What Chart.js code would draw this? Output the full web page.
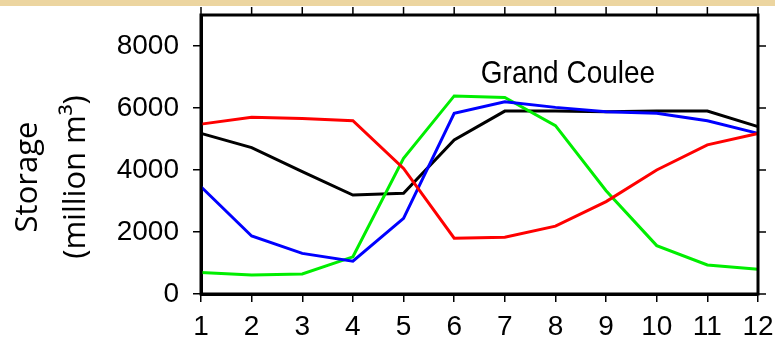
<!DOCTYPE html>
<html lang="en">
<head>
    <meta charset="UTF-8">
    <title>Grand Coulee storage</title>
    <script src="https://cdn.jsdelivr.net/npm/chart.js"></script>
    <style>
        html, body { margin: 0; padding: 0; background: #fff; }
        #wrap { position: relative; width: 775px; height: 343px; }
        #band { position: absolute; left: 0; top: 0; width: 775px; height: 6px; background: #ecd5a0; }
        canvas { position: absolute; left: 0; top: 0; }
    </style>
</head>
<body>
    <div id="wrap">
        <div id="band"></div>
        <canvas id="storageChart" width="775" height="343"></canvas>
    </div>
    <script>
        // months on the x axis
        const months = ['1', '2', '3', '4', '5', '6', '7', '8', '9', '10', '11', '12'];
        const yTicks = [0, 2000, 4000, 6000, 8000];

        // storage values (million m3)
        const storageRed   = [5480, 5700, 5660, 5590, 4050, 1800, 1830, 2190, 2980, 4000, 4810, 5180];
        const storageBlack = [5180, 4720, 3950, 3190, 3250, 4970, 5900, 5900, 5880, 5900, 5900, 5400];
        const storageBlue  = [3460, 1870, 1310, 1060, 2440, 5830, 6200, 6020, 5880, 5830, 5590, 5180];
        const storageGreen = [690, 610, 645, 1200, 4380, 6390, 6340, 5430, 3330, 1560, 935, 800];

        const tickFont = { family: 'Liberation Sans, Arial, sans-serif', size: 28 };

        // box on top / right with outward ticks, plus the texts
        const extras = {
            id: 'extras',
            afterDraw(chart) {
                const ctx = chart.ctx;
                const a = chart.chartArea;
                const xs = chart.scales.x;
                const ys = chart.scales.y;
                ctx.save();
                ctx.strokeStyle = '#000';
                ctx.lineWidth = 3;
                ctx.strokeRect(a.left, a.top, a.right - a.left, a.bottom - a.top);
                ctx.lineWidth = 1.5;
                ctx.beginPath();
                months.forEach((m, i) => {
                    const px = xs.getPixelForValue(i);
                    ctx.moveTo(px, a.top);
                    ctx.lineTo(px, a.top - 8);
                });
                yTicks.forEach(v => {
                    const py = ys.getPixelForValue(v);
                    ctx.moveTo(a.right, py);
                    ctx.lineTo(a.right + 8, py);
                });
                ctx.stroke();

                ctx.fillStyle = '#000';
                ctx.textAlign = 'center';
                ctx.textBaseline = 'alphabetic';
                ctx.save();
                ctx.translate(568, 83);
                ctx.scale(0.875, 1);
                ctx.font = '32px "Liberation Sans", Arial, sans-serif';
                ctx.fillText('Grand Coulee', 0, 0);
                ctx.restore();

                ctx.font = '31px "Open Sans", sans-serif';
                ctx.translate(37, 177);
                ctx.rotate(-Math.PI / 2);
                ctx.fillText('Storage', 0, 0);
                ctx.fillText('(million m\u00b3)', 0, 48);
                ctx.restore();
            }
        };

        const ctx = document.getElementById('storageChart').getContext('2d');
        new Chart(ctx, {
            type: 'line',
            data: {
                labels: months,
                datasets: [
                    { data: storageRed, borderColor: '#ff0000' },
                    { data: storageBlue, borderColor: '#0000ff' },
                    { data: storageGreen, borderColor: '#00ee00' },
                    { data: storageBlack, borderColor: '#000000' }
                ].map(d => Object.assign(d, { borderWidth: 3, pointRadius: 0, tension: 0, fill: false }))
            },
            options: {
                responsive: false,
                animation: false,
                layout: { padding: { top: 15, right: 17, left: 0, bottom: 0 } },
                plugins: { legend: { display: false }, tooltip: { enabled: false } },
                scales: {
                    x: {
                        offset: false,
                        grid: { drawOnChartArea: false, tickLength: 8, color: '#000', lineWidth: 1.5 },
                        border: { color: '#000', width: 3 },
                        ticks: { color: '#000', font: tickFont, padding: 8, maxRotation: 0, autoSkip: false },
                        afterFit(s) { s.height = 49; s.paddingLeft = 0; s.paddingRight = 0; }
                    },
                    y: {
                        min: 0,
                        max: 9000,
                        afterBuildTicks(s) { s.ticks = yTicks.map(v => ({ value: v })); },
                        grid: { drawOnChartArea: false, tickLength: 8, color: '#000', lineWidth: 1.5 },
                        border: { color: '#000', width: 3 },
                        ticks: { color: '#000', font: tickFont, padding: 14, callback: v => String(v) },
                        afterFit(s) { s.width = 201; s.paddingTop = 0; s.paddingBottom = 0; }
                    }
                }
            },
            plugins: [extras]
        });
    </script>
</body>
</html>
